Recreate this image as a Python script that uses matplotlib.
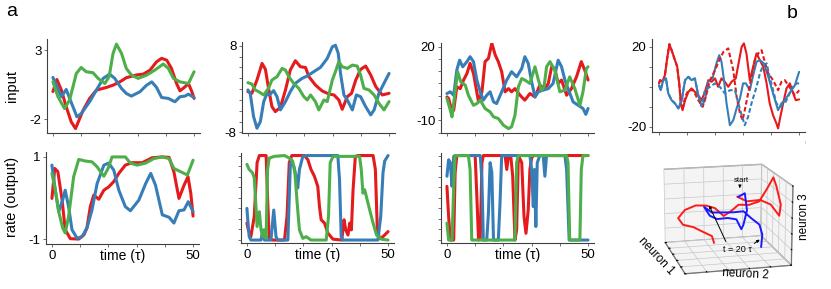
import matplotlib
matplotlib.use("Agg")
import matplotlib.pyplot as plt
from matplotlib.patches import FancyArrowPatch

plt.rcParams['font.family'] = ['Liberation Sans', 'DejaVu Sans']
plt.rcParams['font.size'] = 9.5

RED = '#e41a1c'
BLUE = '#377eb8'
GREEN = '#4daf4a'

# ---- panel a, column 1 : (time, value) pairs
A1_RED = [(0, 0.0), (1.4, 0.87), (3, 0.1), (4.7, -1.1), (6.5, -2.2), (8, -2.68), (10.7, -1.35), (13, -0.5),
          (15.4, 0.1), (19, 0.3), (21.3, 0.46), (23.7, 0.7), (26, 1.0), (29.6, 1.2), (32, 1.26), (34.4, 1.55),
          (36.7, 2.15), (38.5, 2.4), (40.3, 2.27), (42, 1.67), (43.8, 0.58), (45, 0.05), (46.8, 0.34),
          (48, 0.58), (49.2, 0.0), (50, -0.5)]
A1_BLUE = [(0, 1.02), (3, -0.38), (4.7, 0.15), (8.5, -1.83), (10, -1.6), (13, -0.74), (15.4, 0.1), (17.8, 0.95),
           (20.1, 1.26), (21.9, 0.95), (24.3, 0.22), (26, -0.14), (27.8, -0.33), (30.8, -0.02), (33.2, 0.46),
           (35, 0.7), (36.7, 0.3), (38.5, -0.43), (40.9, -0.5), (43.2, -0.74), (45, -0.38), (46.8, -0.33),
           (48, -0.19), (50, -0.43)]
A1_GREEN = [(0, 0.7), (1.8, -0.38), (4.1, -1.23), (5.9, -0.62), (8.3, 1.31), (10, 1.74), (11.8, 1.43),
            (14.2, 1.36), (16, 0.95), (18.4, 0.58), (19.9, 1.07), (21.3, 2.76), (22.5, 3.43), (24.3, 2.76),
            (26, 1.67), (27.8, 1.19), (30.2, 0.95), (33.2, 1.19), (36.1, 1.55), (39.1, 1.99), (40.9, 1.67),
            (42.7, 0.95), (45, 0.7), (48, 0.58), (50, 1.43)]
A1R_RED = [(0, -0.01), (1, 0.72), (2.1, 0.64), (3.6, -0.05), (4.7, -0.77), (6.5, -0.99), (9.5, -1.0),
           (11.3, -0.9), (12.4, -0.73), (13.6, -0.21), (14.8, 0.07), (16.6, -0.03), (18.4, 0.19), (20.1, 0.27),
           (21.9, 0.4), (23.7, 0.6), (26, 0.8), (28.4, 0.86), (32, 0.86), (35.5, 0.98), (39.1, 1.0),
           (41.5, 0.99), (43.2, 0.64), (45, -0.01), (46.8, 0.31), (48.2, 0.52), (49.2, 0.11), (50, -0.44)]
A1R_BLUE = [(0, 0.8), (1.2, 0.19), (2.4, -0.33), (3.8, -0.05), (4.7, 0.19), (5.9, -0.21), (7.1, -0.77),
            (8.9, -0.98), (10.7, -0.94), (12.4, -0.73), (14.2, -0.29), (16, 0.35), (18.4, 0.8), (20.1, 0.85),
            (21.9, 0.68), (23.7, 0.19), (26, -0.21), (27.8, -0.31), (30.8, -0.05), (33.2, 0.35), (35, 0.6),
            (36.7, 0.31), (39.1, -0.41), (41.5, -0.47), (43.2, -0.61), (45, -0.31), (46.8, -0.29),
            (48.3, -0.09), (50, -0.33)]
A1R_GREEN = [(0, 0.6), (1.2, 0.19), (2.4, -0.33), (3.8, -0.73), (4.7, -0.85), (5.9, -0.45), (7.7, 0.52),
             (9.5, 0.94), (11.8, 0.9), (14.2, 0.88), (16, 0.76), (18.4, 0.53), (19.9, 0.72), (21.3, 1.0),
             (23.7, 1.0), (26, 1.0), (27.8, 0.85), (30.2, 0.8), (33.2, 0.85), (36.1, 0.96), (39.1, 1.0),
             (41.5, 0.96), (43.2, 0.72), (45.6, 0.64), (48, 0.56), (50, 0.92)]

# ---- panel a, column 2
A2_RED = [(0, -0.47), (1.4, -0.77), (3.2, 1.68), (5, 4.75), (6.2, 3.64), (7.3, 0.15), (8.5, -3.23),
          (9.7, -4.15), (11.5, -3.35), (13.3, -0.16), (15, 3.52), (16.8, 5.24), (18.6, 4.13), (20.4, 4.0),
          (21.6, 2.29), (23.9, 0.76), (26.3, -0.34), (28.7, -0.9), (30.5, -1.08), (32.2, -2.0), (33.4, -3.72),
          (35.2, -1.39), (36.7, -0.77), (38.2, 1.68), (39.9, 3.64), (41.7, 4.26), (43.5, 2.6), (45.3, 0.45),
          (47.6, -1.08), (50, -0.77)]
A2_BLUE = [(0, -0.16), (0.8, -0.77), (2, -5.07), (3.2, -7.21), (4.4, -6.0), (5.6, -2.3), (6.8, -0.77),
           (7.6, -1.08), (9.1, -0.28), (10.3, -1.39), (11.5, -3.84), (13.3, -2.3), (15, -0.47), (16.8, 1.07),
           (19.2, 1.99), (21, 2.42), (23.3, 3.21), (25.7, 4.01), (28.1, 5.67), (29.9, 7.82), (31, 8.1),
           (32, 6.59), (32.8, 2.9), (34, -1.08), (35.2, -2.0), (37, -3.84), (38.4, -1.08), (39.9, -1.39),
           (41.7, -3.23), (43.5, -4.76), (44.7, -3.84), (46.4, -0.77), (48.2, 1.07), (50, 2.9)]
A2_GREEN = [(0, 1.19), (1.4, 0.94), (2.6, -0.16), (3.8, -0.47), (5.6, -1.08), (7.3, 0.15), (8.5, 1.68),
            (10.3, 2.29), (12.1, 3.83), (13.3, 3.52), (14.5, 2.29), (16.2, 1.07), (18, 0.15), (19.8, -1.39),
            (21, -2.0), (22.2, -1.08), (23.9, -2.3), (25.1, -3.84), (26.9, -2.0), (28.1, -2.3), (29.9, 1.68),
            (31, 3.21), (32.2, 5.06), (33.4, 4.13), (35.2, 3.83), (37, 4.44), (38.7, 4.26), (39.9, 2.6),
            (41.1, 0.15), (42.9, -0.16), (44.7, -1.08), (46.4, -2.61), (48.2, -3.84), (50, -2.3)]
A2R_RED = [(0, -0.6), (0.5, -0.76), (1.4, -0.92), (2.6, -0.44), (3.6, 0.83), (4.4, 1), (6.8, 1), (7.3, 0.03),
           (7.9, -0.96), (9.1, -1), (13.3, -1), (14.2, -0.44), (15, 0.83), (15.9, 1), (20.4, 1), (21.6, 0.9),
           (22.7, 0.67), (23.9, 0.51), (25.1, 0.27), (25.7, -0.21), (26.3, -0.52), (27.5, -0.6), (28.7, -0.84),
           (30.5, -0.98), (33.6, -1), (34.4, -0.52), (35, -0.76), (35.8, -0.88), (36.4, -0.6), (37, -0.76),
           (37.6, 0.19), (38.4, 0.98), (39.3, 1), (44.7, 1), (45.5, 0.67), (46.2, -0.76), (47, -0.96),
           (48.2, -0.92), (50, -0.8)]
A2R_BLUE = [(0, -0.25), (0.2, -0.44), (0.8, -0.92), (1.4, -1), (5, -1), (5.6, -0.76), (6.2, -1), (8.5, -1),
            (9.5, -0.29), (10.3, -0.92), (10.9, -1), (14.5, -1), (15.4, 0.83), (16.6, 0.75), (17.4, 0.51),
            (18, 0.23), (18.6, 0.67), (19.8, 0.98), (21, 1), (32.2, 1), (32.8, 0.43), (33.4, -0.92), (34, -1),
            (46.4, -1), (47.4, -0.44), (48.2, 0.59), (48.8, 0.87), (50, 1)]
A2R_GREEN = [(0, 0.79), (0.8, 0.67), (2, 0.59), (2.6, 0.47), (3.2, -0.21), (3.6, -0.68), (4.4, -0.33),
             (5, -0.76), (5.6, -0.92), (6.2, -0.76), (6.8, -0.96), (7.3, 0.67), (7.9, 0.94), (9.7, 0.98),
             (13.3, 1), (15, 0.94), (16.2, 0.87), (17, 0.59), (17.8, -0.13), (18.6, -0.76), (19.8, -0.96),
             (21, -0.92), (22.7, -1), (28.1, -1), (28.9, -0.44), (29.5, 0.83), (30.5, 0.98), (39.9, 0.98),
             (40.5, 0.67), (41.1, 0.11), (41.7, 0.19), (42.3, 0.03), (43.5, -0.29), (44.7, -0.6), (45.9, -0.88),
             (47.6, -0.98), (50, -1)]

# ---- panel a, column 3
A3_RED = [(0, -0.5), (0.6, -1.1), (1.8, -6.6), (2.4, -5.9), (3.5, 3.6), (4.7, 2.9), (5.9, 6.4), (7.1, 9.1),
          (8.2, 13.2), (9.4, 9.1), (11.2, -2.5), (12.4, 1.6), (13.5, 13.9), (14.7, 15.2), (15.9, 21.4),
          (17.1, 16.6), (18.2, 13.9), (19.4, 9.8), (20.6, 1.6), (21.8, 2.9), (22.9, 1.6), (24.1, 2.9),
          (25.9, 0.2), (27.6, -1.8), (29.4, 0.9), (31.2, -0.5), (32.9, 4.3), (34.7, 2.9), (35.9, 5.0),
          (37.1, 11.8), (38.2, 11.1), (39.4, 5.0), (40.6, 6.4), (42.4, 0.2), (44.1, 2.9), (45.9, 7.7),
          (47.6, 13.9), (48.8, 10.5), (50, 6.4)]
A3_BLUE = [(0, 0.9), (1.2, 1.6), (2.4, 0.2), (3.5, 10.5), (4.5, 14.5), (5.6, 11.8), (7.1, 13.9), (8.2, 15.9),
           (9.4, 13.9), (10.6, 6.4), (11.8, 1.6), (12.9, -1.8), (14.1, 0.2), (15.3, 1.6), (16.5, -2.5),
           (17.6, -3.2), (19.4, 1.6), (21.2, 6.4), (22.9, 9.8), (24.7, 7.7), (26.5, 11.1), (27.6, 15.9),
           (28.8, 13.2), (30, 5.7), (31.2, -0.5), (32.4, 1.6), (34.1, 2.3), (35.9, 2.9), (37.6, 5.0),
           (39.4, 14.5), (40.6, 11.8), (41.8, 6.4), (42.9, 2.9), (44.7, -2.5), (46.5, -3.9), (48.2, -5.2),
           (49.2, -7.6), (50, -5.2)]
A3_GREEN = [(0, -1.1), (1.2, -5.9), (1.8, -8.6), (2.9, 1.6), (3.8, 9.8), (4.9, 5.7), (6.5, 4.3), (7.6, 0.2),
            (9.4, -3.9), (10.6, -3.2), (11.8, -1.8), (13.5, -5.2), (15.3, -6.6), (16.5, -8.6), (18.2, -9.3),
            (20, -12), (21.8, -13.4), (22.9, -12.7), (24.1, -8.0), (25.3, 3.6), (26.5, 7.0), (27.6, 6.4),
            (29.4, 5.0), (31.2, 11.8), (32.4, 6.4), (33.5, 2.3), (34.4, 3.6), (35.3, 11.8), (36.5, 13.9),
            (38.2, 10.5), (40, 1.6), (41.8, 2.3), (43.5, 7.7), (45.3, 2.9), (47.1, -3.9), (48.2, 1.6),
            (49.4, 11.1), (50, 11.8)]
A3R_RED = [(0, 0.27), (0.6, -0.44), (1.2, -1), (2.4, -1), (2.9, 0.59), (3.5, 1), (10, 1), (10.6, 0.03),
           (11.2, -1), (11.8, -0.96), (12.4, 0.83), (12.9, 1), (20.6, 1), (21.2, 0.67), (21.8, 1), (22.6, 1),
           (23.3, 0.51), (24.1, -1), (24.7, -0.76), (25.3, 1), (26.5, 0.83), (27.3, -0.44), (28, -0.84),
           (28.8, -0.29), (29.4, 0.67), (30, 0.94), (30.6, 1), (50, 1)]
A3R_BLUE = [(0, 0.51), (0.6, 0.9), (1.2, 0.83), (1.8, 0.27), (2.4, 0.98), (2.9, 1), (11.8, 1), (12.4, 0.43),
            (12.9, -1), (14.1, -1), (14.7, -0.37), (15.3, 0.83), (15.9, 0.6), (16.5, -1), (18.2, -1),
            (18.8, -0.13), (19.4, 1), (29.4, 1), (30, 0.67), (30.6, -0.21), (31, 0.67), (31.5, -0.68),
            (32, 0.83), (32.9, 1), (34.1, 1), (34.7, 0.51), (35.3, 1), (41.8, 1), (42.4, 0.67), (43.3, -1),
            (50, -1)]
A3R_GREEN = [(0, -0.6), (0.6, -1), (1.8, -1), (2.4, 0.27), (2.9, 1), (7.6, 1), (8.2, 0.67), (8.8, -1),
             (24.1, -1), (24.7, 0.83), (25.3, 1), (42.4, 1), (42.9, 0.83), (43.5, -1), (47.1, -1),
             (47.6, 0.67), (48.2, 1), (50, 1)]

# ---- panel b, input of two neurons, unperturbed (solid) and perturbed (dashed)
B_RED = [(0, 1.7), (0.4, 3.3), (1.3, 2.5), (2.1, 5.8), (3, 15), (3.7, 21.3), (4.5, 18.3), (5.7, 13.3),
         (6.5, 10), (7.2, 1.7), (7.8, -8.3), (8.4, -11.7), (9.3, -6.7), (10.5, -2.5), (11.6, -0.8),
         (12.8, -2.5), (14, -4.2), (15.2, -6.7), (16.4, -2.5), (17.6, 3.3), (18.8, 2.5), (20, 4.2), (21.1, 0),
         (22.3, 4.2), (23.5, 2.5), (24.7, 0), (25.9, 2.5), (27.4, 4.2), (28.6, 13.3), (29.5, 20), (30.3, 21.7),
         (31.2, 16.7), (32.4, 3.3), (33.6, 10), (34.8, 16.7), (36, 13.3), (37.2, 10), (38.4, 1.7),
         (39.5, -8.3), (40.7, -14.2), (41.9, -18.3), (42.5, -20.8), (43.3, -15), (44.3, -8.3), (45.5, -0.8),
         (46.7, 1.7), (47.9, -3.3), (48.8, -6.7), (50, -6.3)]
B_RED_PERT = [(0, 1.7), (0.4, 3.3), (1.3, 2.5), (2.1, 5.8), (3, 15), (3.7, 21.3), (4.5, 18.3), (5.7, 13.3),
              (6.5, 10), (7.2, 1.7), (7.8, -8.3), (8.4, -11.7), (9.3, -5), (10.5, -1.7), (12.2, -1.7),
              (14, -6.7), (15.6, -10), (17, -3.3), (18.2, 3.3), (20, 8.3), (21.5, 13.3), (23, 17.5),
              (24.7, 19.2), (26.5, 8.3), (27.7, -5), (28.9, -13.3), (29.8, -16.7), (30.6, -11.7), (31.8, -3.3),
              (33, 5), (34.2, 13.3), (35.4, 16.7), (36.6, 18.3), (37.4, 14.2), (39, 6.7), (40.7, 3.3),
              (42.5, -1.7), (43.7, 2.5), (44.9, 3.3), (46.1, 0.8), (47.3, -1.7), (48.5, -4.2), (49.6, -2.5),
              (50, -1.7)]
B_BLUE = [(0, 0.8), (0.6, -1.7), (1.5, 3.3), (2.5, 4.2), (3.3, -3.3), (4.5, -6.7), (5.7, -8.3), (6.9, -10.8),
          (8.1, -6.7), (9.3, 3.3), (10.5, 5), (11.6, 3.3), (12.8, 4.2), (14, -4.2), (15.2, -9.7), (16.4, -6.7),
          (17.6, 2.5), (19.1, 4.2), (20.5, 11.7), (21.5, 15.8), (22.3, 12.5), (23.2, 3.3), (24.1, -8.3),
          (25.3, -19.2), (26.5, -16.7), (27.7, -10.8), (28.9, -5.8), (30, 1.7), (31, 1.7), (32.4, -1.7),
          (33.6, 5.8), (34.8, 12.5), (36, 13.3), (37.4, 11.7), (39, 5), (40.7, -3.3), (42.5, -11.7),
          (43.7, -8.3), (44.9, -6.7), (46.1, -4.2), (47.3, -1.7), (48.5, 0.8), (50, 7.5)]
B_BLUE_PERT = [(0, 0.8), (0.6, -1.7), (1.5, 3.3), (2.5, 4.2), (3.3, -3.3), (4.5, -6.7), (5.7, -8.3),
               (6.9, -10.8), (8.1, -6.7), (9.3, 3.3), (10.5, 5), (11.6, 3.3), (12.8, 4.2), (14, -4.2),
               (15.2, -9.7), (16.4, -1.7), (18.2, 0), (20, 1.7), (21.7, 0), (23.5, -3.3), (25.3, -1.7),
               (27.1, -1.7), (28.3, -8.3), (29.5, -14.2), (30.6, -19.2), (31.8, -15), (33, -8.3), (34.8, 0),
               (36, 6.7), (37.2, 10.8), (38.4, 11.7), (39.5, 5), (40.7, -1.7), (41.9, -8.3), (43.1, -10),
               (44.9, -8.3), (46.1, -5), (47.3, -0.8), (49.1, 1.7), (50, 1.7)]

# ---- panel b, 3D trajectory (neuron 1, neuron 2, neuron 3)
TRAJ_RED = [(0.0, 0.23, 0.48), (0.1, 0.39, 0.38), (0.2, 0.62, 0.43), (0.3, 0.8, 0.33), (0.4, 0.94, 0.06),
            (0.3, 1.0, 0.31), (0.0, 1.0, 0.7), (-0.2, 1.0, 0.87), (-0.2, 0.88, 0.59), (-0.1, 0.69, 0.29),
            (0.0, 0.46, 0.25), (0.0, 0.25, 0.27), (0.0, 0.1, 0.11), (0.0, -0.04, 0.0), (0.0, -0.21, 0.22),
            (0.0, -0.38, 0.3), (0.0, -0.58, 0.32), (0.0, -0.79, 0.22), (0.0, -0.92, 0.02), (0.0, -0.83, -0.16),
            (0.0, -0.63, -0.24), (0.0, -0.42, -0.4), (0.0, -0.27, -0.51), (0.0, -0.23, -0.69)]
TRAJ_BLUE = [(0.0, 0.25, 0.48), (0.0, 0.375, 0.56), (0.0, 0.42, 0.11), (0.0, 0.35, -0.27), (0.0, 0.31, -0.38),
             (0.0, 0.21, -0.11), (0.0, 0.04, -0.06), (0.0, -0.17, -0.07), (0.0, -0.31, 0.03), (0.0, -0.42, 0.27),
             (0.0, -0.27, 0.11), (0.0, 0.15, 0.08), (0.0, 0.35, 0.09), (0.0, 0.5, -0.1), (0.0, 0.67, -0.29),
             (0.0, 0.73, -0.56), (0.0, 0.71, -0.89)]

W, H = 831, 289


def px_axes(left, top, right, bottom):
    return fig.add_axes([left / W, 1 - bottom / H, (right - left) / W, (bottom - top) / H])


def style(ax, ylim, yticks, ylabels, xlabels=False):
    ax.set_xlim(-2.1, 52.1)
    ax.set_ylim(*ylim)
    for s in ['top', 'right']:
        ax.spines[s].set_visible(False)
    for s in ['left', 'bottom']:
        ax.spines[s].set_color('0.25')
        ax.spines[s].set_linewidth(0.8)
    ax.set_xticks([0, 10, 20, 30, 40, 50])
    if xlabels:
        ax.set_xticklabels(['0', '', '', '', '', '50'])
        ax.set_xlabel('time (τ)', fontsize=10)
        ax.xaxis.set_label_coords(0.5, -0.05)
    else:
        ax.set_xticklabels([])
    ax.set_yticks(yticks)
    ax.set_yticklabels(ylabels)
    ax.tick_params(length=2.5, width=0.6, color='0.35', pad=1.5, labelsize=9.5)


def draw(ax, series, lw=2.2):
    for pts, col in series:
        ax.plot([p[0] for p in pts], [p[1] for p in pts], color=col, lw=lw,
                solid_joinstyle='round', solid_capstyle='round')


fig = plt.figure(figsize=(W / 100, H / 100), dpi=100)

rate_ticks = [-1, -0.75, -0.5, -0.25, 0, 0.25, 0.5, 0.75, 1]

ax = px_axes(47, 39, 200, 133)
draw(ax, [(A1_RED, RED), (A1_BLUE, BLUE), (A1_GREEN, GREEN)])
style(ax, (-3.0, 3.8), [-2, 3], ['-2', '3'])

ax = px_axes(46, 152, 199, 244)
draw(ax, [(A1R_RED, RED), (A1R_BLUE, BLUE), (A1R_GREEN, GREEN)])
style(ax, (-1.12, 1.12), [-1, 1], ['-1', '1'], xlabels=True)

ax = px_axes(242, 42, 395, 133)
draw(ax, [(A2_RED, RED), (A2_BLUE, BLUE), (A2_GREEN, GREEN)])
style(ax, (-8.1, 8.7), [-8, -6, -4, -2, 0, 2, 4, 6, 8], ['-8', '', '', '', '', '', '', '', '8'])

ax = px_axes(241, 153, 394, 243)
draw(ax, [(A2R_RED, RED), (A2R_BLUE, BLUE), (A2R_GREEN, GREEN)])
style(ax, (-1.07, 1.06), rate_ticks, [''] * 9, xlabels=True)

ax = px_axes(441, 43, 594, 133)
draw(ax, [(A3_RED, RED), (A3_BLUE, BLUE), (A3_GREEN, GREEN)])
style(ax, (-15.2, 21.5), [-15, -10, -5, 0, 5, 10, 15, 20], ['', '-10', '', '', '', '', '', '20'])

ax = px_axes(441, 153, 594, 243)
draw(ax, [(A3R_RED, RED), (A3R_BLUE, BLUE), (A3R_GREEN, GREEN)])
style(ax, (-1.07, 1.06), rate_ticks, [''] * 9, xlabels=True)

# panel b top
ax = px_axes(652, 39, 805, 132)
draw(ax, [(B_RED, RED), (B_BLUE, BLUE)], lw=1.5)
for pts, col in [(B_RED_PERT, RED), (B_BLUE_PERT, BLUE)]:
    ax.plot([p[0] for p in pts], [p[1] for p in pts], color=col, lw=1.5, dashes=(2.2, 1.2))
style(ax, (-22.6, 23.9), [-20, -10, 0, 10, 20], ['-20', '', '', '', '20'], xlabels=True)
ax.set_xlim(-2.5, 52.1)
ax.xaxis.set_label_coords(0.5, -0.1)

# panel b bottom, 3D state space
ax3 = fig.add_axes([0.7706, -0.037, 0.2, 0.565], projection='3d')
ax3.view_init(elev=15, azim=-14)
ax3.set_xlim(-1, 1)
ax3.set_ylim(-1, 1)
ax3.set_zlim(-1, 1)
grid_ticks = [-1, -0.6, -0.2, 0.2, 0.6, 1]
for axis in (ax3.xaxis, ax3.yaxis, ax3.zaxis):
    axis.set_ticks(grid_ticks)
    axis.set_ticklabels([])
    axis.set_pane_color((0.955, 0.955, 0.955, 1.0))
    axis.pane.set_edgecolor('0.6')
    axis.line.set_linewidth(0.6)
    axis.line.set_color('0.4')
    axis._axinfo['grid'].update(color='0.78', linewidth=0.5)
    axis._axinfo['tick'].update(inward_factor=0.0, outward_factor=0.15)
for pts, col in [(TRAJ_RED, '#ff1a1a'), (TRAJ_BLUE, '#1a1aff')]:
    ax3.plot([p[0] for p in pts], [p[1] for p in pts], [p[2] for p in pts], color=col, lw=1.4)

fig.text(656 / W, 1 - 256 / H, 'neuron 1', rotation=-47, ha='center', va='center', fontsize=8.5)
fig.text(745 / W, 1 - 274 / H, 'neuron 2', rotation=-3, ha='center', va='center', fontsize=8.5)
fig.text(804 / W, 1 - 217 / H, 'neuron 3', rotation=90, ha='center', va='center', fontsize=8.5)
fig.text(741 / W, 1 - 180 / H, 'start', ha='center', va='center', fontsize=5.5)
fig.text(737 / W, 1 - 249 / H, 't = 20 τ', ha='center', va='center', fontsize=6.5)
arrows = [((740, 184), (739.5, 191)), ((727, 244), (708, 203)), ((752, 245), (762, 238))]
for (x0, y0), (x1, y1) in arrows:
    fig.add_artist(FancyArrowPatch((x0 / W, 1 - y0 / H), (x1 / W, 1 - y1 / H), transform=fig.transFigure,
                                   arrowstyle='-|>', mutation_scale=4, lw=0.7, color='k'))

# labels
fig.text(12 / W, 1 - 86 / H, 'input', rotation=90, ha='center', va='center', fontsize=10.5)
fig.text(12 / W, 1 - 197 / H, 'rate (output)', rotation=90, ha='center', va='center', fontsize=10.5)
fig.text(12 / W, 1 - 12 / H, 'a', ha='center', va='center', fontsize=14)
fig.text(792 / W, 1 - 14 / H, 'b', ha='center', va='center', fontsize=14)

fig.savefig('out.png', dpi=100)
